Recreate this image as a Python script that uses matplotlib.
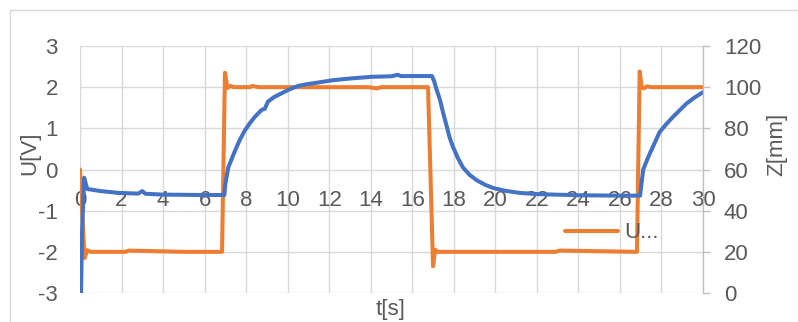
import matplotlib
matplotlib.use("Agg")
import matplotlib.pyplot as plt
from matplotlib.patches import Rectangle

plt.rcParams['font.family'] = ['Liberation Sans', 'DejaVu Sans']
plt.rcParams['axes.unicode_minus'] = False

# control voltage U [V] (left axis)
t_u = [0.0, 0.22, 0.35, 0.5, 2.2, 2.35, 5.0, 6.84, 6.98, 7.1, 7.25, 7.4, 8.2, 8.3, 8.6,
       13.9, 14.3, 14.5, 16.76, 17.0, 17.1, 17.25, 22.9, 23.1, 26.82, 26.95, 27.05,
       27.15, 27.3, 27.5, 30.0]
u = [0.0, -2.15, -1.96, -2.0, -2.0, -1.97, -2.0, -2.0, 2.35, 1.98, 2.03, 2.0, 2.0, 2.03, 2.0,
     2.0, 1.97, 2.0, 2.0, -2.35, -1.95, -2.0, -2.0, -1.97, -2.0, 2.38, 2.0,
     1.97, 2.02, 2.0, 2.0]

# position Z [mm] (right axis)
t_z = [0.05, 0.1, 0.2, 0.35, 0.5, 1.0, 1.9, 2.8, 3.0, 3.15, 4.0, 5.9, 6.95, 7.0, 7.14,
       7.3, 7.46, 7.7, 7.94, 8.2, 8.42, 8.75, 8.9, 9.05, 9.35, 9.7, 10.1, 10.5, 10.9,
       11.3, 12.2, 13.0, 14.0, 15.0, 15.3, 15.45, 16.0, 16.95, 17.05, 17.15, 17.33,
       17.5, 17.67, 17.8, 17.96, 18.2, 18.44, 18.75, 19.1, 19.5, 19.9, 20.5, 21.2,
       22.1, 24.0, 26.0, 26.97, 27.12, 27.3, 27.45, 27.7, 27.9, 28.2, 28.56, 28.9,
       29.2, 29.6, 30.0]
z = [0.0, 30.0, 56.0, 50.5, 50.3, 49.5, 48.6, 48.3, 49.5, 48.2, 47.8, 47.6, 47.6, 53.0, 61.0,
     65.0, 69.0, 74.5, 79.0, 82.8, 85.6, 89.0, 89.5, 93.0, 95.2, 97.0, 99.0, 100.6, 101.4,
     102.0, 103.4, 104.2, 105.0, 105.3, 106.0, 105.4, 105.4, 105.4, 103.0, 99.5, 94.0,
     87.0, 80.6, 75.5, 71.0, 65.5, 61.0, 57.5, 54.8, 52.6, 51.0, 49.6, 48.6,
     48.0, 47.5, 47.3, 47.3, 60.0, 64.5, 68.0, 73.5, 78.0, 81.7, 85.6, 89.0,
     92.0, 95.0, 97.6]

x_ticks = list(range(0, 31, 2))
u_ticks = [-3, -2, -1, 0, 1, 2, 3]
z_ticks = [0, 20, 40, 60, 80, 100, 120]

W, H = 798, 322
fig = plt.figure(figsize=(W / 100, H / 100), dpi=100)
ax = fig.add_axes([80 / W, 1 - 293 / H, 623 / W, 247 / H])
ax2 = ax.twinx()

grid = '#D9D9D9'
txt = '#595959'
orange = '#ED7D31'
blue = '#4472C4'
fs = 16

# outer chart frame
fig.patches.append(Rectangle((10 / W, -0.2), 1.2, 1.2 - 10 / H, transform=fig.transFigure,
                             fill=False, edgecolor=grid, lw=1.0))

line_u, = ax.plot(t_u, u, color=orange, lw=2.9, solid_joinstyle='round',
                  solid_capstyle='round', label='U...')
ax2.plot(t_z, z, color=blue, lw=2.9, solid_joinstyle='round', solid_capstyle='round')

ax.set_xlim(0, 30)
ax.set_ylim(-3, 3)
ax2.set_ylim(0, 120)
ax.set_xticks(x_ticks)
ax.set_yticks(u_ticks)
ax2.set_yticks(z_ticks)

ax.grid(True, color=grid, lw=1.0)
ax.set_axisbelow(True)

for s in ['top', 'left', 'right']:
    ax.spines[s].set_visible(False)
ax.spines['bottom'].set_position(('data', 0))
ax.spines['bottom'].set_visible(False)
for s in ['top', 'left', 'bottom']:
    ax2.spines[s].set_visible(False)
ax2.spines['right'].set_color('#BFBFBF')
ax2.spines['right'].set_linewidth(1.0)

ax.tick_params(axis='x', length=0, pad=15, labelsize=fs, labelcolor=txt)
ax.tick_params(axis='y', length=0, pad=16, labelsize=fs, labelcolor=txt)
ax2.tick_params(axis='y', length=5, width=1.0, color='#BFBFBF', pad=10,
                labelsize=fs, labelcolor=txt)

fig.text(30 / W, 1 - 153 / H, 'U[V]', rotation=90, ha='center', va='center',
         fontsize=fs, color=txt)
fig.text(777 / W, 1 - 144 / H, 'Z[mm]', rotation=90, ha='center', va='center',
         fontsize=fs, color=txt)
fig.text(391 / W, 1 - 309 / H, 't[s]', ha='center', va='center', fontsize=fs, color=txt)

ax.legend(handles=[line_u], loc='center left', bbox_to_anchor=(565 / W, 1 - 233 / H),
          bbox_transform=fig.transFigure, frameon=False, fontsize=fs,
          handlelength=2.4, handletextpad=0.25, borderpad=0, borderaxespad=0,
          labelcolor=txt)

fig.savefig('out.png', dpi=100)
